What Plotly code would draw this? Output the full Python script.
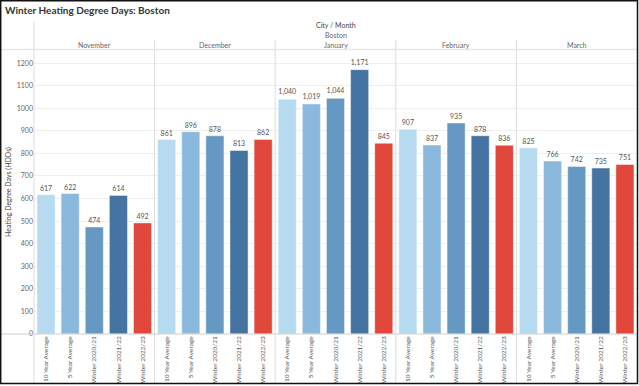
import plotly.graph_objects as go
from plotly.subplots import make_subplots

months = ["November", "December", "January", "February", "March"]
series = ["10 Year Average", "5 Year Average", "Winter 2020/21", "Winter 2021/22", "Winter 2022/23"]
values = {
    "November": [617, 622, 474, 614, 492],
    "December": [861, 896, 878, 813, 862],
    "January": [1040, 1019, 1044, 1171, 845],
    "February": [907, 837, 935, 878, 836],
    "March": [825, 766, 742, 735, 751],
}
colors = ["#b6dbf0", "#8bb9dd", "#6698c4", "#4573a2", "#e2473b"]
y_ticks = list(range(0, 1300, 100))

W, H = 639, 386
L, R, T, B = 34, 2, 50, 52
pw, ph = W - L - R, H - T - B


def px(x):
    return (x - L) / pw


def py(y):
    return (H - B - y) / ph


fig = make_subplots(rows=1, cols=5, shared_yaxes=True, horizontal_spacing=0)
for i, m in enumerate(months):
    fig.add_trace(
        go.Bar(
            x=series,
            y=values[m],
            marker=dict(color=colors, line=dict(color="rgba(255,255,255,0.45)", width=1)),
            text=values[m],
            texttemplate="%{y:,}",
            textposition="outside",
            textfont=dict(size=7, color="#555"),
            cliponaxis=False,
            showlegend=False,
            hoverinfo="x+y",
        ),
        row=1,
        col=i + 1,
    )
    fig.update_xaxes(
        type="category",
        tickangle=-90,
        tickfont=dict(size=6.5, color="#555"),
        showgrid=False,
        ticks="",
        row=1,
        col=i + 1,
    )

fig.update_yaxes(
    range=[0, 1258],
    tickvals=y_ticks,
    tickformat="d",
    showgrid=True,
    gridcolor="#efefef",
    gridwidth=1,
    zeroline=False,
    tickfont=dict(size=7, color="#666"),
    ticks="",
)
fig.update_yaxes(
    title=dict(text="Heating Degree Days (HDDs)", font=dict(size=7, color="#444"), standoff=4),
    row=1,
    col=1,
)

shapes = []
line_grey = "#dcdcdc"
# left vertical header/axis line
shapes.append(dict(type="line", xref="paper", yref="paper", x0=px(34), x1=px(34), y0=py(22), y1=py(384),
                   line=dict(color=line_grey, width=1)))
# month separators
for k in range(1, 5):
    xx = L + pw * k / 5
    shapes.append(dict(type="line", xref="paper", yref="paper", x0=px(xx), x1=px(xx), y0=py(40), y1=py(384),
                       line=dict(color=line_grey, width=1)))
# header bottom line
shapes.append(dict(type="line", xref="paper", yref="paper", x0=px(0), x1=px(637), y0=py(49.5), y1=py(49.5),
                   line=dict(color="#e6e6e6", width=1.5)))
# zero / axis line
shapes.append(dict(type="line", xref="paper", yref="paper", x0=px(0), x1=px(637), y0=py(334), y1=py(334),
                   line=dict(color="#cfcfcf", width=1)))
# outer border
shapes.append(dict(type="rect", xref="paper", yref="paper", x0=px(0.7), x1=px(637.5), y0=py(383.5), y1=py(0.7),
                   line=dict(color="#111", width=1.5), fillcolor="rgba(0,0,0,0)"))

annotations = []
annotations.append(dict(text="<b>Winter Heating Degree Days: Boston</b>", xref="paper", yref="paper",
                        x=px(3), y=py(10), xanchor="left", yanchor="middle", showarrow=False,
                        font=dict(size=10, color="#333")))
annotations.append(dict(text="City / Month", xref="paper", yref="paper", x=px((34 + 637) / 2), y=py(25),
                        xanchor="center", yanchor="middle", showarrow=False, font=dict(size=7, color="#444")))
annotations.append(dict(text="Boston", xref="paper", yref="paper", x=px((34 + 637) / 2), y=py(35),
                        xanchor="center", yanchor="middle", showarrow=False, font=dict(size=7, color="#666")))
for k, m in enumerate(months):
    xc = L + pw * (k + 0.5) / 5
    annotations.append(dict(text=m, xref="paper", yref="paper", x=px(xc), y=py(44.5),
                            xanchor="center", yanchor="middle", showarrow=False,
                            font=dict(size=7, color="#666")))

fig.update_layout(
    width=W,
    height=H,
    margin=dict(l=L, r=R, t=T, b=B),
    bargap=0.25,
    plot_bgcolor="white",
    paper_bgcolor="white",
    font=dict(family="Lato, Open Sans, sans-serif"),
    shapes=shapes,
    annotations=annotations,
)

fig.write_html("out.html", config={"displayModeBar": False})

# remove default page margins so the figure sits at the window's top-left corner
with open("out.html", "r", encoding="utf-8") as f:
    html = f.read()
html = html.replace("<head>", "<head><style>html,body{margin:0;padding:0;overflow:hidden;}</style>", 1)
with open("out.html", "w", encoding="utf-8") as f:
    f.write(html)
